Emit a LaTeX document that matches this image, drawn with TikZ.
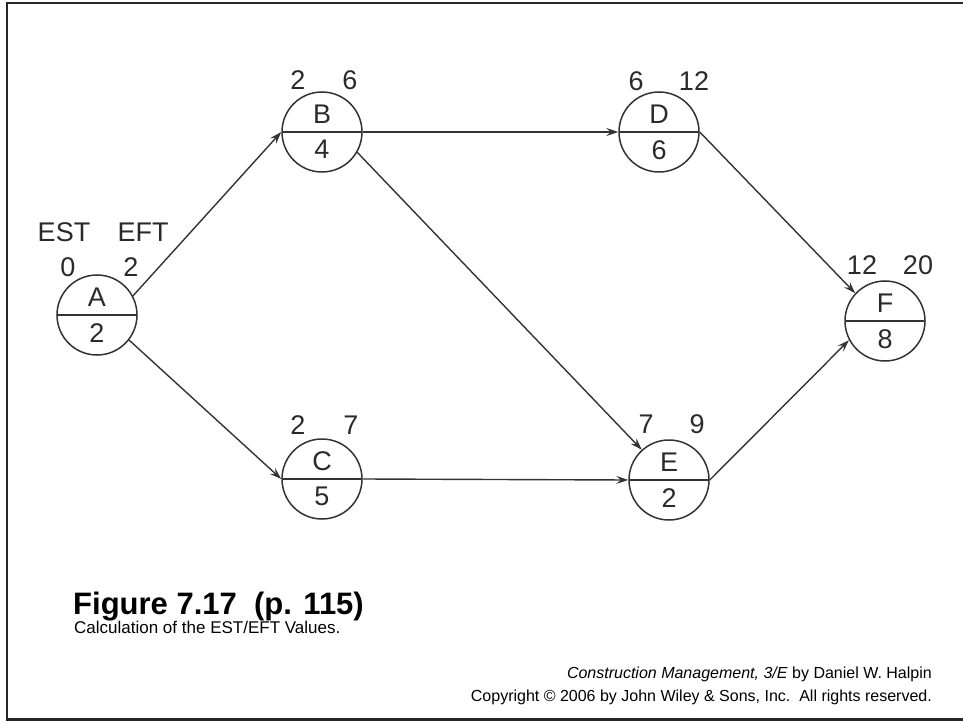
\documentclass[tikz,border=0pt]{standalone}
\usepackage{fontspec}
\setmainfont{Liberation Sans}
\usetikzlibrary{shapes.multipart,arrows.meta}
\definecolor{linegray}{HTML}{333333}
\definecolor{textgray}{HTML}{2A2A2A}

\begin{document}
\begin{tikzpicture}[x=1pt,y=1pt,
  act/.style={circle split,draw=linegray,line width=1.5pt,minimum size=80pt,
    inner xsep=1pt,inner ysep=7.5pt,text=textgray,font=\fontsize{27}{27}\selectfont},
  num/.style={text=textgray,inner sep=0pt,font=\fontsize{27}{27}\selectfont},
  link/.style={draw=linegray,line width=1.4pt,-{Stealth[length=12pt,width=8pt,inset=4.5pt]}}]
\useasboundingbox (0,0) rectangle (963,721);
\draw[line width=2.5pt,black!85] (963,1.5) -- (7,1.5) -- (7,718) -- (963,718);
% activities
\node (A) at (97,406) [act] {A \nodepart{lower} 2};
\node (B) at (322,589) [act] {B \nodepart{lower} 4};
\node (C) at (322,242) [act] {C \nodepart{lower} 5};
\node (D) at (659,589) [act] {D \nodepart{lower} 6};
\node (E) at (669,241) [act] {E \nodepart{lower} 2};
\node (F) at (885,400) [act] {F \nodepart{lower} 8};
% EST / EFT over each circle
\node (Ahead1) at (64,489) [num] {EST};
\node (Ahead2) at (143,489) [num] {EFT};
\node (Aest) at (68,454) [num] {0};
\node (Aeft) at (131,454) [num] {2};
\node (Best) at (298,641) [num] {2};
\node (Beft) at (350,641) [num] {6};
\node (Cest) at (298,296) [num] {2};
\node (Ceft) at (351,296) [num] {7};
\node (Dest) at (636,640) [num] {6};
\node (Deft) at (694,640) [num] {12};
\node (Eest) at (646,297) [num] {7};
\node (Eeft) at (697,297) [num] {9};
\node (Fest) at (862,456) [num] {12};
\node (Feft) at (918,456) [num] {20};
% links
\draw[link] (A.28) -- (B.west);
\draw[link] (A.-38) -- (C.west);
\draw[link] (B.east) -- (D.west);
\draw[link] (B.-30) -- (E.132);
\draw[link] (C.east) -- (E.west);
\draw[link] (D.east) -- (F.137);
\draw[link] (E.east) -- (F.208);
% caption
\node (title) at (73,107) [anchor=base west,inner sep=0pt,font=\fontsize{31}{31}\selectfont\bfseries] {Figure 7.17\ \ (p. 115)};
\node (subtitle) at (74,88) [anchor=base west,inner sep=0pt,font=\fontsize{17}{17}\selectfont] {Calculation of the EST/EFT Values.};
\node (book) at (932,43) [anchor=base east,inner sep=0pt,font=\fontsize{16}{16}\selectfont] {\textit{Construction Management, 3/E} by Daniel W. Halpin};
\node (rights) at (932,20) [anchor=base east,inner sep=0pt,font=\fontsize{16}{16}\selectfont] {Copyright \textcopyright{} 2006 by John Wiley \& Sons, Inc.\ \ All rights reserved.};
\end{tikzpicture}
\end{document}
